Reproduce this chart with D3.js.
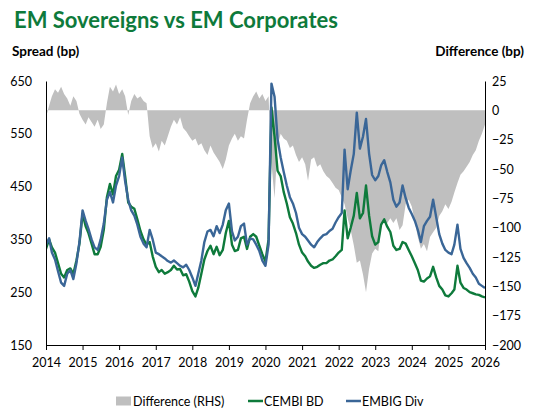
<!DOCTYPE html>
<html>
<head>
<meta charset="utf-8">
<script src="https://cdn.jsdelivr.net/npm/d3@7/dist/d3.min.js"></script>
<style>
  html, body { margin: 0; padding: 0; background: #ffffff; }
  svg { display: block; }
  text { font-family: Lato, "Open Sans", sans-serif; }
</style>
</head>
<body>
<div id="chart"></div>
<script>
// ---------- DATA (monthly, Jan 2014 .. Jan 2026) ----------
const startYear = 2014;
const startMonth = 0;

const embigDiv = [
  340,352,325,312,290,268,262,285,292,275,305,345,
  405,385,370,350,335,330,350,380,425,440,420,452,
  470,505,460,425,405,395,378,355,342,335,368,350,
  325,322,318,314,309,306,310,305,300,297,302,292,
  278,262,285,310,345,365,368,356,375,362,378,405,
  418,365,348,355,375,380,340,352,350,340,328,310,
  300,340,645,620,540,505,478,452,430,418,400,372,
  360,355,348,340,335,345,352,358,360,366,370,382,
  392,400,520,445,480,512,590,522,545,578,512,472,
  462,470,490,500,478,458,425,412,420,452,428,410,
  398,385,368,345,375,385,393,425,392,360,342,330,
  325,322,340,378,332,315,305,296,285,278,266,262,
  258
];

const cembiBD = [
  332,350,335,325,305,285,278,292,295,285,310,342,
  398,375,362,342,322,322,336,368,430,455,435,470,
  482,512,470,420,412,408,388,366,350,340,345,318,
  298,288,292,285,288,292,300,293,294,282,284,270,
  252,242,258,285,312,328,338,322,336,320,330,362,
  385,340,328,330,352,355,332,355,360,355,338,322,
  308,350,600,545,480,470,440,418,392,380,362,340,
  325,318,308,300,296,298,302,305,305,310,312,318,
  325,330,405,352,372,395,438,390,400,452,395,356,
  340,345,378,388,374,364,338,330,332,345,342,330,
  318,305,292,272,270,276,280,298,278,262,255,244,
  242,248,255,300,268,258,255,250,248,246,245,242,
  240
];

const difference = [
  -6,4,12,18,15,20,14,10,4,12,8,-3,
  -8,-12,-6,-10,-14,-8,-16,-12,6,20,16,22,
  14,18,12,-4,8,14,10,12,8,6,-22,-32,
  -28,-35,-26,-30,-22,-14,-8,-12,-6,-15,-18,-22,
  -26,-24,-30,-28,-34,-38,-30,-36,-40,-44,-50,-42,
  -30,-24,-20,-26,-22,-24,-8,6,12,16,10,14,
  8,12,-45,-75,-30,-20,-24,-26,-32,-30,-38,-44,
  -40,-46,-60,-42,-40,-48,-46,-52,-56,-58,-62,-66,
  -68,-74,-80,-92,-102,-115,-130,-128,-140,-155,-135,-122,
  -118,-120,-98,-95,-96,-92,-96,-92,-102,-98,-80,-76,
  -82,-95,-108,-118,-114,-120,-108,-104,-100,-90,-86,-80,
  -84,-78,-70,-62,-55,-52,-48,-44,-38,-34,-26,-20,
  -12
];

const xTickYears = [2014,2015,2016,2017,2018,2019,2020,2021,2022,2023,2024,2025,2026];
const leftTicks = [650,550,450,350,250,150];
const rightTicks = [25,0,-25,-50,-75,-100,-125,-150,-175,-200];

const seriesNames = ["Difference (RHS)", "CEMBI BD", "EMBIG Div"];
const colors = { diff: "#bfbfbf", cembi: "#0e7a3b", embig: "#3a6697" };

// ---------- LAYOUT ----------
const W = 536, H = 411;
const plot = { left: 46, right: 485, top: 81, bottom: 345 };

const dates = embigDiv.map((_, i) => new Date(startYear, startMonth + i, 1));

const x = d3.scaleTime()
  .domain([new Date(2014, 0, 1), new Date(2026, 0, 1)])
  .range([plot.left, plot.right]);
const yL = d3.scaleLinear().domain([150, 650]).range([plot.bottom, plot.top]);
const yR = d3.scaleLinear().domain([-200, 25]).range([plot.bottom, plot.top]);

const svg = d3.select("#chart").append("svg")
  .attr("width", W).attr("height", H);

svg.append("rect").attr("width", W).attr("height", H).attr("fill", "#fff");

// Title
svg.append("text")
  .attr("x", 14).attr("y", 28)
  .attr("fill", "#0e7a3b")
  .attr("font-size", 22).attr("font-weight", "bold")
  .text("EM Sovereigns vs EM Corporates");

svg.append("text")
  .attr("x", 12).attr("y", 56)
  .attr("font-size", 13.5).attr("font-weight", "bold").attr("fill", "#000")
  .text("Spread (bp)");
svg.append("text")
  .attr("x", 524).attr("y", 56).attr("text-anchor", "end")
  .attr("font-size", 13.5).attr("font-weight", "bold").attr("fill", "#000")
  .text("Difference (bp)");

// Clip
svg.append("clipPath").attr("id", "clip")
  .append("rect")
  .attr("x", plot.left).attr("y", plot.top)
  .attr("width", plot.right - plot.left).attr("height", plot.bottom - plot.top);

const g = svg.append("g").attr("clip-path", "url(#clip)");

// Difference area (RHS)
const area = d3.area()
  .x((d, i) => x(dates[i]))
  .y0(yR(0))
  .y1(d => yR(d));
g.append("path")
  .datum(difference)
  .attr("d", area)
  .attr("fill", colors.diff);

// Lines
const lineL = d3.line()
  .x((d, i) => x(dates[i]))
  .y(d => yL(d));

g.append("path").datum(cembiBD)
  .attr("d", lineL).attr("fill", "none")
  .attr("stroke", colors.cembi).attr("stroke-width", 2.4)
  .attr("stroke-linejoin", "round");

g.append("path").datum(embigDiv)
  .attr("d", lineL).attr("fill", "none")
  .attr("stroke", colors.embig).attr("stroke-width", 2.4)
  .attr("stroke-linejoin", "round");

// Axes
const axisFont = 12.5;
const xAxis = d3.axisBottom(x)
  .tickValues(xTickYears.map(yr => new Date(yr, 0, 1)))
  .tickFormat(d3.timeFormat("%Y"))
  .tickSize(5).tickSizeOuter(0).tickPadding(8);
const gx = svg.append("g").attr("transform", `translate(0,${plot.bottom})`).call(xAxis);
gx.select(".domain").attr("stroke", "#000");
gx.selectAll(".tick line").attr("stroke", "#000");
gx.selectAll("text").attr("font-size", axisFont).attr("fill", "#000")
  .attr("font-family", "Lato, 'Open Sans', sans-serif");

const yAxisL = d3.axisLeft(yL).tickValues(leftTicks).tickSize(0).tickPadding(14);
const gyl = svg.append("g").attr("transform", `translate(${plot.left},0)`).call(yAxisL);
gyl.select(".domain").attr("stroke", "#000");
gyl.selectAll("text").attr("font-size", axisFont).attr("fill", "#000")
  .attr("font-family", "Lato, 'Open Sans', sans-serif");

const yAxisR = d3.axisRight(yR).tickValues(rightTicks).tickSize(0).tickPadding(7);
const gyr = svg.append("g").attr("transform", `translate(${plot.right},0)`).call(yAxisR);
gyr.select(".domain").attr("stroke", "#000");
gyr.selectAll("text").attr("font-size", axisFont).attr("fill", "#000")
  .attr("font-family", "Lato, 'Open Sans', sans-serif");

// Legend
const legY = 401;
const leg = svg.append("g");
leg.append("rect").attr("x", 116).attr("y", legY - 4.5).attr("width", 15).attr("height", 9)
  .attr("fill", colors.diff);
leg.append("text").attr("x", 133).attr("y", legY + 4.5).attr("font-size", 12.5)
  .text(seriesNames[0]);
leg.append("line").attr("x1", 248).attr("x2", 263).attr("y1", legY).attr("y2", legY)
  .attr("stroke", colors.cembi).attr("stroke-width", 2.5);
leg.append("text").attr("x", 264).attr("y", legY + 4.5).attr("font-size", 12.5)
  .text(seriesNames[1]);
leg.append("line").attr("x1", 346).attr("x2", 361).attr("y1", legY).attr("y2", legY)
  .attr("stroke", colors.embig).attr("stroke-width", 2.5);
leg.append("text").attr("x", 362).attr("y", legY + 4.5).attr("font-size", 12.5)
  .text(seriesNames[2]);
</script>
</body>
</html>
